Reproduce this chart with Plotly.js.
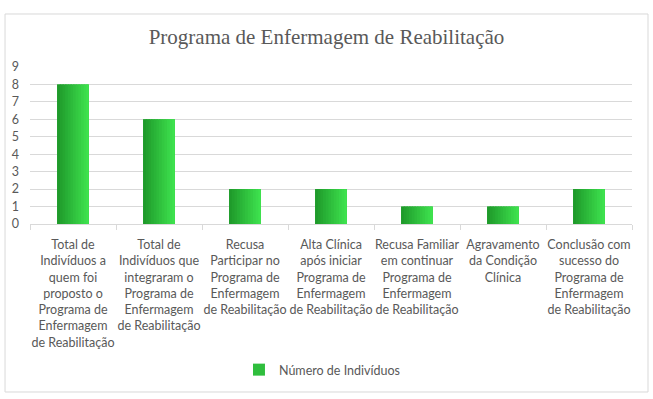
<!DOCTYPE html>
<html>
<head>
<meta charset="utf-8">
<script src="https://cdn.plot.ly/plotly-3.0.1.min.js"></script>
<style>
  html, body { margin: 0; padding: 0; background: #fff; }
  #chart { width: 653px; height: 399px; }
</style>
</head>
<body>
<div id="chart"></div>
<script>
// Categories (line breaks as shown under each bar)
const categories = [
  "Total de<br>Indivíduos a<br>quem foi<br>proposto o<br>Programa de<br>Enfermagem<br>de Reabilitação",
  "Total de<br>Indivíduos que<br>integraram o<br>Programa de<br>Enfermagem<br>de Reabilitação",
  "Recusa<br>Participar no<br>Programa de<br>Enfermagem<br>de Reabilitação",
  "Alta Clínica<br>após iniciar<br>Programa de<br>Enfermagem<br>de Reabilitação",
  "Recusa Familiar<br>em continuar<br>Programa de<br>Enfermagem<br>de Reabilitação",
  "Agravamento<br>da Condição<br>Clínica",
  "Conclusão com<br>sucesso do<br>Programa de<br>Enfermagem<br>de Reabilitação"
];
const values = [8, 6, 2, 2, 1, 1, 2];
const seriesName = "Número de Indivíduos";
const yTicks = [0, 1, 2, 3, 4, 5, 6, 7, 8, 9];

// Each bar: a solid base plus overlapping vertical slices shading dark green (left) to bright green (right)
const barWidth = 0.37;
const slices = 12;
const c0 = [0x1f, 0x9a, 0x2b], c1 = [0x3e, 0xe2, 0x4e];
function mix(t) {
  const c = c0.map((v, i) => Math.round(v + (c1[i] - v) * t));
  return `rgb(${c[0]},${c[1]},${c[2]})`;
}
const traces = [{
  type: "bar",
  x: categories,
  y: values,
  name: seriesName,
  width: barWidth,
  marker: { color: mix(0.5), line: { width: 0 } },
  showlegend: true,
  hoverinfo: "skip"
}];
for (let i = 0; i < slices; i++) {
  const w = barWidth / slices;
  const last = i === slices - 1;
  traces.push({
    type: "bar",
    x: categories,
    y: values,
    name: seriesName,
    width: last ? w : w * 1.6,
    offset: -barWidth / 2 + i * w,
    marker: { color: mix(i / (slices - 1)), line: { width: 0 } },
    showlegend: false,
    hoverinfo: "skip"
  });
}

const txt = "#595959";
const layout = {
  width: 653,
  height: 399,
  margin: { l: 30, r: 21, t: 67, b: 175 },
  paper_bgcolor: "#fff",
  plot_bgcolor: "#fff",
  barmode: "overlay",
  title: {
    text: "Programa de Enfermagem de Reabilitação",
    font: { family: "'Liberation Serif', 'DejaVu Serif', serif", size: 21, color: txt },
    x: 0.5, xanchor: "center",
    y: 1 - 37 / 399, yanchor: "middle"
  },
  font: { family: "Lato", size: 12.5, color: txt },
  xaxis: {
    type: "category",
    tickson: "boundaries",
    ticks: "outside",
    ticklen: 5,
    tickcolor: "#d9d9d9",
    showline: true,
    linecolor: "#d9d9d9",
    linewidth: 1,
    showgrid: false,
    tickangle: 0,
    ticklabelstandoff: 9,
    tickfont: { family: "Lato", size: 12.5, color: txt },
    automargin: false
  },
  yaxis: {
    range: [0, 9],
    tickvals: yTicks,
    ticktext: yTicks.map(String),
    showgrid: true,
    gridcolor: "#d9d9d9",
    zeroline: false,
    showline: false,
    ticks: "",
    ticklabelstandoff: 10,
    tickfont: { family: "Lato", size: 12.5, color: txt },
    automargin: false
  },
  showlegend: true,
  legend: {
    orientation: "h",
    x: 0.485, xanchor: "center",
    y: -0.93, yanchor: "middle",
    font: { family: "Lato", size: 12.5, color: txt },
    itemwidth: 30
  },
  shapes: [{
    type: "rect", xref: "paper", yref: "paper",
    x0: -0.0415, x1: 1.0266, y0: -1.07, y1: 1.3376,
    line: { color: "#d9d9d9", width: 1 },
    fillcolor: "rgba(0,0,0,0)",
    layer: "below"
  }]
};

Plotly.newPlot("chart", traces, layout, { displayModeBar: false, staticPlot: true });
</script>
</body>
</html>
